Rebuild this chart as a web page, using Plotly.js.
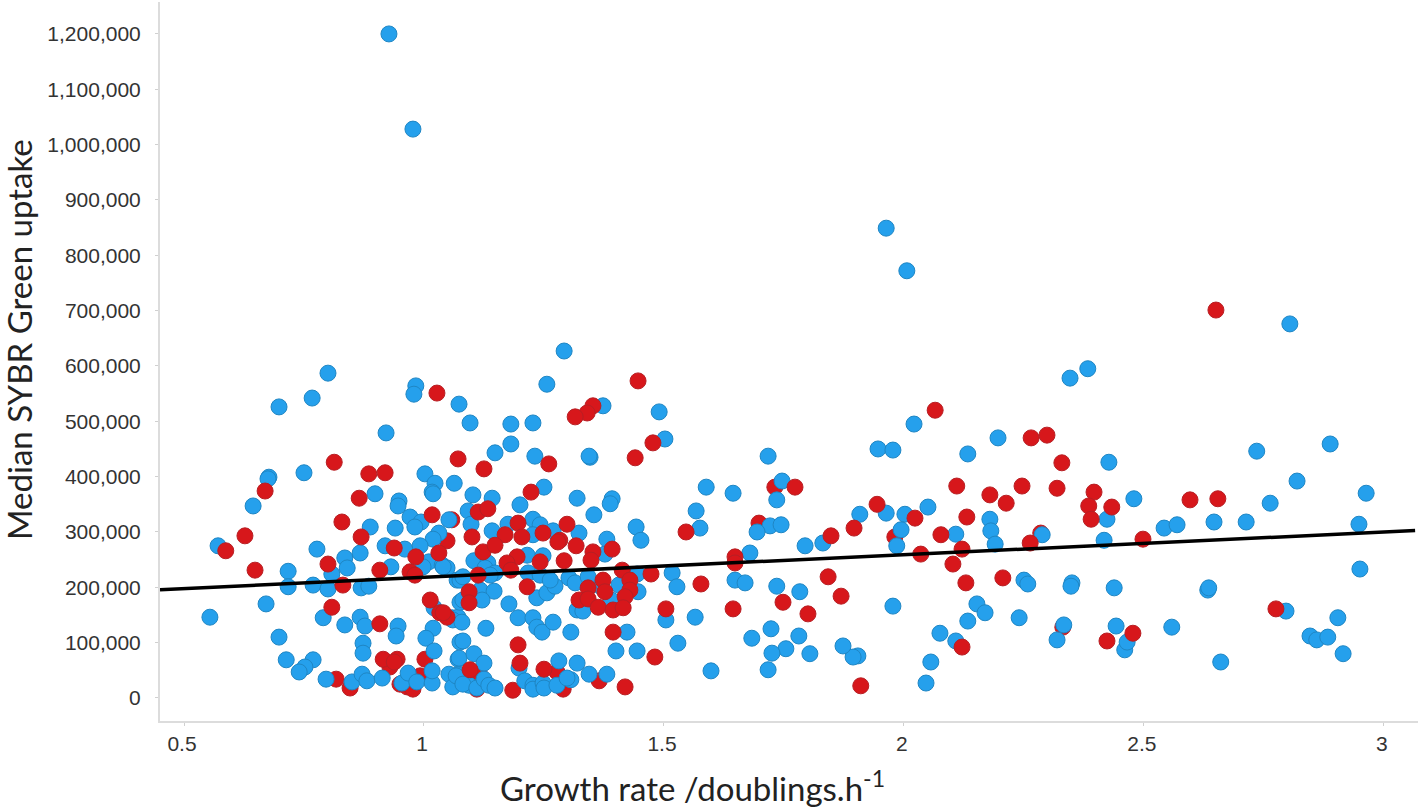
<!DOCTYPE html>
<html><head><meta charset="utf-8">
<script src="https://cdn.plot.ly/plotly-3.0.1.min.js"></script>
<style>html,body{margin:0;padding:0;background:#fff}#c{width:1418px;height:808px}</style>
</head><body><div id="c"></div>
<script>
const xTitle = "Growth rate /doublings.h<sup>-1</sup>";
const yTitle = "Median SYBR Green uptake";
const xTicks = [0.5, 1, 1.5, 2, 2.5, 3];
const xTickLabels = ["0.5", "1", "1.5", "2", "2.5", "3"];
const yTicks = [0,100000,200000,300000,400000,500000,600000,700000,800000,900000,1000000,1100000,1200000];
const fitX = [0.45, 3.065];
const fitY = [195500, 302500];

// [growth rate, uptake in thousands]
const bluePoints = [
[.927,1200],[.977,1028],[1.963,849],[2.006,772],[2.804,676],[1.292,627],[.800,587],[1.256,567],[.983,564],[.979,549],
[.767,542],[.698,526],[1.073,531],[.921,479],[1.096,497],[1.181,495],[1.227,497],[1.373,528],[1.490,517],[1.502,468],
[1.181,459],[1.148,443],[1.231,437],[1.346,435],[1.344,437],[.677,399],[.675,396],[.750,407],[.644,347],[.898,369],
[1.002,405],[1.023,388],[1.017,372],[1.019,369],[1.063,388],[.948,356],[.946,347],[.971,327],[.994,318],[.981,309],
[1.052,322],[.888,309],[.940,307],[1.031,298],[1.019,287],[.571,275],[.777,269],[.867,262],[.835,253],[.840,235],
[.717,229],[.808,224],[.717,201],[.769,204],[.800,197],[.869,199],[.885,202],[.919,275],[.960,269],[.992,275],
[.931,237],[1.010,246],[1.038,240],[1.048,235],[.998,237],[1.069,213],[1.075,213],[.671,170],[.554,146],[.790,145],
[.835,132],[.867,146],[.877,130],[.946,130],[.942,112],[1.019,126],[1.004,108],[.698,110],[.873,99],[.873,81],
[1.021,85],[1.021,163],[1.058,145],[1.071,146],[1.075,173],[1.075,101],[.713,69],[.769,69],[.752,56],[.740,47],
[.796,34],[.850,29],[.871,43],[.881,31],[.913,36],[.954,27],[.967,45],[.985,29],[1.017,27],[1.017,49],
[1.052,43],[1.060,20],[1.071,70],[1.071,42],[1.102,367],[1.142,361],[1.200,349],[1.319,361],[1.392,360],[1.388,351],
[1.354,331],[1.588,381],[1.644,370],[1.567,338],[1.442,309],[1.575,307],[1.092,338],[1.098,314],[1.175,314],[1.227,323],
[1.242,313],[1.269,302],[1.142,302],[1.323,298],[1.227,295],[1.381,287],[1.452,285],[1.215,258],[1.248,257],[1.377,260],
[1.444,224],[1.517,226],[1.527,201],[1.648,213],[1.104,248],[1.133,244],[1.127,235],[1.148,226],[1.040,237],[1.081,219],
[1.138,222],[1.117,195],[1.146,193],[1.081,177],[1.121,177],[1.177,170],[1.235,181],[1.256,190],[1.273,202],[1.217,226],
[1.242,222],[1.263,213],[1.302,217],[1.315,208],[1.342,219],[1.369,201],[1.406,204],[1.446,192],[1.390,177],[1.319,159],
[1.331,157],[1.196,145],[1.227,145],[1.235,128],[1.246,119],[1.269,137],[1.306,119],[1.060,141],[1.079,137],[1.129,126],
[1.081,103],[1.423,119],[1.504,141],[1.565,146],[1.400,85],[1.444,85],[1.529,99],[1.598,49],[1.073,72],[1.104,80],
[1.125,63],[1.067,40],[1.094,23],[1.081,25],[1.110,18],[1.125,34],[1.135,23],[1.148,18],[1.198,54],[1.210,31],
[1.227,23],[1.227,16],[1.248,27],[1.250,18],[1.277,23],[1.281,67],[1.306,33],[1.298,36],[1.319,63],[1.344,43],
[1.381,43],[1.250,381],[1.717,437],[1.746,392],[1.735,358],[1.721,311],[1.744,313],[1.694,300],[1.679,262],[1.669,208],
[1.683,108],[1.723,125],[1.735,202],[1.794,275],[1.831,280],[1.783,192],[1.781,112],[1.804,80],[1.754,89],[1.725,81],
[1.717,51],[1.908,332],[1.946,450],[1.977,448],[1.963,334],[2.002,332],[1.994,304],[1.985,275],[1.977,166],[2.021,495],
[2.133,441],[2.056,65],[2.046,27],[2.075,117],[2.108,296],[2.05,345],[2.108,103],[2.133,139],[2.152,170],[2.169,154],
[2.179,323],[2.181,302],[2.190,278],[2.196,470],[2.240,145],[2.250,213],[2.258,206],[2.288,295],[2.319,105],[2.333,132],
[2.346,578],[2.350,208],[2.348,202],[2.383,595],[2.417,285],[2.423,323],[2.427,426],[2.438,199],[2.442,130],[2.460,87],
[2.465,101],[2.479,360],[2.542,307],[2.569,313],[2.558,128],[2.633,195],[2.635,199],[2.646,318],[2.660,65],[2.713,318],
[2.735,446],[2.763,352],[2.819,392],[2.796,157],[2.846,112],[2.860,105],[2.883,110],[2.904,145],[2.915,80],[2.888,459],
[2.948,314],[2.950,233],[2.963,370],[1.904,76],[1.894,74],[1.873,94]
];
const redBehind = [
[1.058,322],[1.048,284],[.817,34],[.846,18],[.950,25],[.965,20],[.977,16],[.992,40],[1.002,70],[.929,56],
[1.065,27],[1.115,45],[1.110,16],[1.185,14],[1.290,16],[1.365,31],[1.419,20],[1.277,47],
[1.698,316],[1.731,381],[1.981,291],[2.285,298],[2.331,128]
];
const redFront = [
[1.027,551],[.813,426],[.885,405],[.919,407],[1.071,432],[.669,374],[.865,361],[.829,318],[1.017,331],[.869,291],
[.627,293],[.587,266],[.648,231],[.800,242],[.938,271],[.908,231],[.983,255],[1.031,262],[.971,228],[.981,222],
[.831,204],[1.013,177],[1.033,154],[1.048,146],[.808,164],[.908,134],[.915,70],[.944,70],[.938,65],[1.446,573],
[1.352,528],[1.340,515],[1.315,508],[1.477,461],[1.440,434],[1.125,414],[1.260,423],[1.223,372],[1.113,336],[1.133,342],
[1.196,316],[1.298,314],[1.546,300],[1.100,291],[1.169,295],[1.204,291],[1.248,298],[1.283,285],[1.123,264],[1.148,276],
[1.279,282],[1.317,275],[1.392,269],[1.352,264],[1.348,249],[1.292,248],[1.242,246],[1.194,255],[1.173,244],[1.181,231],
[1.113,222],[1.094,192],[1.094,172],[1.215,201],[1.373,213],[1.413,231],[1.429,213],[1.473,224],[1.429,195],[1.419,183],
[1.377,192],[1.342,199],[1.323,177],[1.342,179],[1.363,164],[1.394,159],[1.415,163],[1.504,161],[1.577,206],[1.644,161],
[1.648,255],[1.648,244],[1.394,119],[1.481,74],[1.196,96],[1.200,63],[1.250,52],[1.096,51],[1.040,154],
[1.773,381],[1.944,350],[1.848,293],[1.896,307],[1.842,219],[1.748,173],[1.800,152],[1.869,184],[1.910,22],
[2.023,325],[2.065,520],[2.110,383],[2.077,295],[2.035,260],[2.102,242],[2.121,269],[2.131,327],[2.129,208],[2.121,92],
[2.179,367],[2.213,352],[2.206,217],[2.246,383],[2.265,470],[2.298,475],[2.263,280],[2.319,379],[2.329,425],
[2.396,372],[2.385,347],[2.390,323],[2.433,345],[2.423,103],[2.477,117],[2.498,287],[2.596,358],[2.654,360],
[2.650,701],[2.775,161]
];

function dots(pts, fill, edge) {
  return {
    type: "scatter", mode: "markers", showlegend: false, cliponaxis: false,
    x: pts.map(p => p[0]), y: pts.map(p => p[1] * 1000),
    marker: {size: 16, color: fill, line: {color: edge, width: 1}}
  };
}
const traces = [
  dots(redBehind, "#D7171B", "#B81F24"),
  dots(bluePoints, "#25A0EC", "#1F86C4"),
  dots(redFront, "#D7171B", "#B81F24"),
  {type: "scatter", mode: "lines", showlegend: false, x: fitX, y: fitY, line: {color: "#000", width: 3.5}}
];
const titleFont = {family: "Lato, sans-serif", size: 33, color: "#222"};
const layout = {
  width: 1418, height: 808, paper_bgcolor: "#fff", plot_bgcolor: "#fff",
  margin: {l: 160, r: 0, t: 2, b: 87},
  font: {family: "Liberation Sans, Arial, sans-serif", color: "#333", size: 21},
  xaxis: {
    range: [0.45, 3.071], showgrid: false, zeroline: false, showline: true,
    linecolor: "#DCDCDC", linewidth: 2, ticks: "outside", ticklen: 3, tickcolor: "#D0D0D0", tickwidth: 1,
    tickvals: xTicks, ticktext: xTickLabels, tickfont: {size: 21, color: "#333"}, ticklabelshift: -2
  },
  yaxis: {
    range: [-41600, 1257700], showgrid: false, zeroline: false, showline: true,
    linecolor: "#DCDCDC", linewidth: 2, ticks: "outside", ticklen: 3, tickcolor: "#D0D0D0", tickwidth: 1,
    tickvals: yTicks, tickformat: ",d", tickfont: {size: 21, color: "#333"}, ticklabelstandoff: 10
  },
  annotations: [
    {text: xTitle, xref: "paper", yref: "paper", x: 0.423, y: -0.0904, showarrow: false,
     xanchor: "center", yanchor: "middle", font: titleFont},
    {text: yTitle, xref: "paper", yref: "paper", x: -0.112, y: 0.53, showarrow: false, textangle: -90,
     xanchor: "center", yanchor: "middle", font: titleFont}
  ]
};
Plotly.newPlot("c", traces, layout, {displayModeBar: false, staticPlot: true});
</script>
</body></html>
